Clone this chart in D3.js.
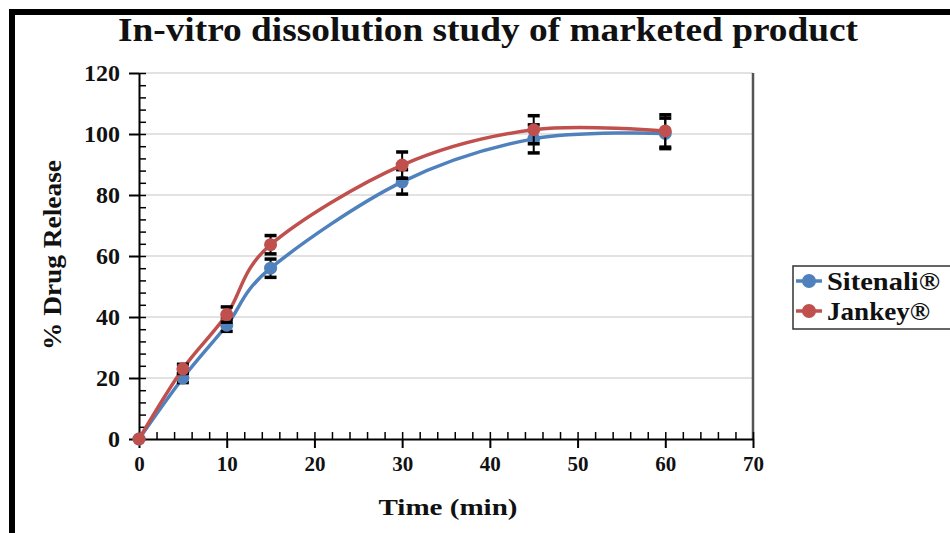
<!DOCTYPE html>
<html>
<head>
<meta charset="utf-8">
<script src="https://cdn.jsdelivr.net/npm/d3@7"></script>
<style>
  body { margin: 0; background: #fff; }
  text { font-family: "Times New Roman", "Liberation Serif", Tinos, serif; font-weight: bold; fill: #111; }
</style>
</head>
<body>
<div id="chart"></div>
<script>
// data
const times = [0, 5, 10, 15, 30, 45, 60];
const sitenali = [0, 20, 37.3, 56, 84.3, 98.4, 100.2];
const sitenaliErr = [0, 1.5, 2, 3, 4, 4.6, 5];
const jankey = [0, 23, 40.8, 63.7, 89.8, 101.4, 101];
const jankeyErr = [0, 1.5, 2.5, 3, 4.3, 4.6, 5.3];
const xTicks = [0, 10, 20, 30, 40, 50, 60, 70];
const yTicks = [0, 20, 40, 60, 80, 100, 120];

const series = [
  { name: "Sitenali®", values: sitenali, err: sitenaliErr, color: "#4f81bd" },
  { name: "Jankey®", values: jankey, err: jankeyErr, color: "#c0504d" }
];

const W = 950, H = 533;
const margin = { top: 73, right: 197, bottom: 94, left: 139 };
const width = W - margin.left - margin.right;
const height = H - margin.top - margin.bottom;

const svg = d3.select("#chart").append("svg")
  .attr("width", W)
  .attr("height", H);

// frame lines of the picture
svg.append("path")
  .attr("d", "M12,533 V12 H950")
  .attr("fill", "none")
  .attr("stroke", "#000")
  .attr("stroke-width", 6);

svg.append("text")
  .attr("x", 488)
  .attr("y", 41)
  .attr("text-anchor", "middle")
  .attr("textLength", 740)
  .attr("lengthAdjust", "spacingAndGlyphs")
  .style("font-size", "33px")
  .text("In-vitro dissolution study of marketed product");

const g = svg.append("g")
  .attr("transform", "translate(" + margin.left + "," + margin.top + ")");

const x = d3.scaleLinear().domain([0, 70]).range([0, width]);
const y = d3.scaleLinear().domain([0, 120]).range([height, 0]);

// gridlines
g.append("g")
  .selectAll("line")
  .data(yTicks.filter(d => d > 0))
  .join("line")
  .attr("x1", 0)
  .attr("x2", width)
  .attr("y1", d => y(d))
  .attr("y2", d => y(d))
  .attr("stroke", "#d9d9d9")
  .attr("stroke-width", 1.5);

// right border of the plot
g.append("line")
  .attr("x1", width).attr("x2", width)
  .attr("y1", 0).attr("y2", height)
  .attr("stroke", "#555")
  .attr("stroke-width", 2.5);

// minor ticks, pointing inwards
g.append("g")
  .attr("transform", "translate(0," + height + ")")
  .call(d3.axisTop(x).tickValues(d3.range(0, 71, 2)).tickSize(7).tickFormat(""))
  .call(s => s.select(".domain").remove())
  .call(s => s.selectAll("line").attr("stroke", "#000").attr("stroke-width", 1.5));

g.append("g")
  .call(d3.axisRight(y).tickValues(d3.range(0, 121, 4)).tickSize(7).tickFormat(""))
  .call(s => s.select(".domain").remove())
  .call(s => s.selectAll("line").attr("stroke", "#000").attr("stroke-width", 1.5));

// major axes
const xAxis = g.append("g")
  .attr("transform", "translate(0," + height + ")")
  .call(d3.axisBottom(x).tickValues(xTicks).tickSize(9).tickSizeOuter(0).tickPadding(8));
xAxis.selectAll("text").style("font-size", "21px").attr("fill", "#111");

const yAxis = g.append("g")
  .call(d3.axisLeft(y).tickValues(yTicks).tickSize(10).tickSizeOuter(0).tickPadding(9));
yAxis.selectAll("text").style("font-size", "24px").attr("fill", "#111");

[xAxis, yAxis].forEach(a => {
  a.attr("font-family", null);
  a.select(".domain").attr("stroke", "#000").attr("stroke-width", 2);
  a.selectAll(".tick line").attr("stroke", "#000").attr("stroke-width", 2);
});

// axis titles
svg.append("text")
  .attr("x", 448)
  .attr("y", 515)
  .attr("text-anchor", "middle")
  .attr("textLength", 139)
  .attr("lengthAdjust", "spacingAndGlyphs")
  .style("font-size", "24px")
  .text("Time (min)");

svg.append("text")
  .attr("transform", "translate(61,255) rotate(-90)")
  .attr("text-anchor", "middle")
  .attr("textLength", 190)
  .attr("lengthAdjust", "spacingAndGlyphs")
  .style("font-size", "25px")
  .text("% Drug Release");

const line = d3.line()
  .x((d, i) => x(times[i]))
  .y(d => y(d))
  .curve(d3.curveCardinal.tension(0));

series.forEach(s => {
  const pts = times.map((t, i) => ({ t: t, v: s.values[i], e: s.err[i] }));

  g.append("path")
    .datum(s.values)
    .attr("d", line)
    .attr("fill", "none")
    .attr("stroke", s.color)
    .attr("stroke-width", 3.5);

  const eb = g.append("g").selectAll("g")
    .data(pts.filter(d => d.e > 0))
    .join("g");
  eb.append("line")
    .attr("x1", d => x(d.t)).attr("x2", d => x(d.t))
    .attr("y1", d => y(d.v - d.e)).attr("y2", d => y(d.v + d.e))
    .attr("stroke", "#000").attr("stroke-width", 2);
  [-1, 1].forEach(sign => {
    eb.append("line")
      .attr("x1", d => x(d.t) - 6).attr("x2", d => x(d.t) + 6)
      .attr("y1", d => y(d.v + sign * d.e)).attr("y2", d => y(d.v + sign * d.e))
      .attr("stroke", "#000").attr("stroke-width", 3.5);
  });

  g.append("g").selectAll("circle")
    .data(pts)
    .join("circle")
    .attr("cx", d => x(d.t))
    .attr("cy", d => y(d.v))
    .attr("r", 6.5)
    .attr("fill", s.color);
});

// legend
const legend = svg.append("g");
legend.append("rect")
  .attr("x", 793).attr("y", 266)
  .attr("width", 170).attr("height", 63)
  .attr("fill", "#fff")
  .attr("stroke", "#333")
  .attr("stroke-width", 1.5);

series.forEach((s, i) => {
  const ly = 281 + i * 30;
  legend.append("line")
    .attr("x1", 796).attr("x2", 822)
    .attr("y1", ly).attr("y2", ly)
    .attr("stroke", s.color).attr("stroke-width", 3.5);
  legend.append("circle")
    .attr("cx", 809).attr("cy", ly).attr("r", 7)
    .attr("fill", s.color);
  legend.append("text")
    .attr("x", 827)
    .attr("y", ly + 9)
    .attr("textLength", i === 0 ? 113 : 103)
    .attr("lengthAdjust", "spacingAndGlyphs")
    .style("font-size", "26px")
    .text(s.name);
});
</script>
</body>
</html>
